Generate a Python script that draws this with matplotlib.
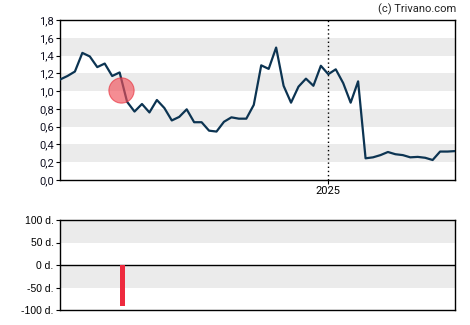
import matplotlib.pyplot as plt
import numpy as np
import pandas as pd

plt.rcParams["font.family"] = "Roboto"

# weekly closing prices
dates = pd.date_range("2024-04-24", periods=54, freq="7D")
prices = [1.13, 1.17, 1.22, 1.43, 1.39, 1.27, 1.31, 1.17, 1.21, 0.88,
          0.77, 0.855, 0.76, 0.90, 0.81, 0.67, 0.71, 0.795, 0.65, 0.65,
          0.555, 0.545, 0.655, 0.705, 0.69, 0.69, 0.845, 1.29, 1.25, 1.49,
          1.06, 0.87, 1.05, 1.14, 1.06, 1.285, 1.19, 1.245, 1.09, 0.87,
          1.11, 0.244, 0.255, 0.28, 0.315, 0.29, 0.28, 0.255, 0.26, 0.25,
          0.225, 0.32, 0.32, 0.325]

# event marker and its delay in days
event_date = dates[8] + pd.Timedelta(days=1)
event_level = 1.01
event_days = [-90]

year_mark = pd.Timestamp("2025-01-01")
price_ticks = np.arange(0, 1.81, 0.2)
day_ticks = [100, 50, 0, -50, -100]

fig = plt.figure(figsize=(4.7, 3.25), dpi=100)
ax = fig.add_axes([60 / 470, 1 - 180 / 325, 395 / 470, 160 / 325])
ax2 = fig.add_axes([60 / 470, 1 - 310 / 325, 395 / 470, 90 / 325])

navy = "#0c3452"
band = "#ebebeb"

# price panel
for lo in [0.2, 0.6, 1.0, 1.4]:
    ax.axhspan(lo, lo + 0.2, color=band, lw=0, zorder=0)
ax.plot(dates, prices, color=navy, lw=1.6, zorder=3)
ax.scatter([event_date], [event_level], s=330, color="#f0505a", alpha=0.65,
           edgecolor="#e8303c", linewidth=0.8, zorder=4)
ax.axvline(year_mark, color="black", lw=1, ls=(0, (1, 2)), zorder=2)

ax.set_xlim(dates[0], dates[-1])
ax.set_ylim(0, 1.8)
ax.set_yticks(price_ticks)
ax.set_yticklabels([f"{v:.1f}".replace(".", ",") for v in price_ticks])
ax.set_xticks([year_mark])
ax.set_xticklabels(["2025"])
ax.tick_params(labelsize=8, length=3, width=0.8, colors="black", pad=1.5)
ax.tick_params(axis="y", labelcolor="#111122")
for s in ax.spines.values():
    s.set_linewidth(1.0)

# delay panel
for lo in [50, -50]:
    ax2.axhspan(lo, lo + 50, color=band, lw=0, zorder=0)
ax2.axhline(0, color="black", lw=1, zorder=2)
ax2.bar([event_date + pd.Timedelta(days=2)], event_days, width=4.5,
        color="#ee2a3e", zorder=3)
ax2.set_xlim(dates[0], dates[-1])
ax2.set_ylim(-100, 100)
ax2.set_yticks(day_ticks)
ax2.set_yticklabels([f"{d} d." for d in day_ticks], family="Liberation Sans")
ax2.set_xticks([])
ax2.tick_params(labelsize=7.5, length=3, width=0.8, pad=1.5)
for s in ax2.spines.values():
    s.set_linewidth(1.0)

fig.text(456 / 470, 1 - 9 / 325, "(c) Trivano.com", ha="right", va="center",
         fontsize=8, color="#222222")

fig.savefig("out.png", dpi=100)
